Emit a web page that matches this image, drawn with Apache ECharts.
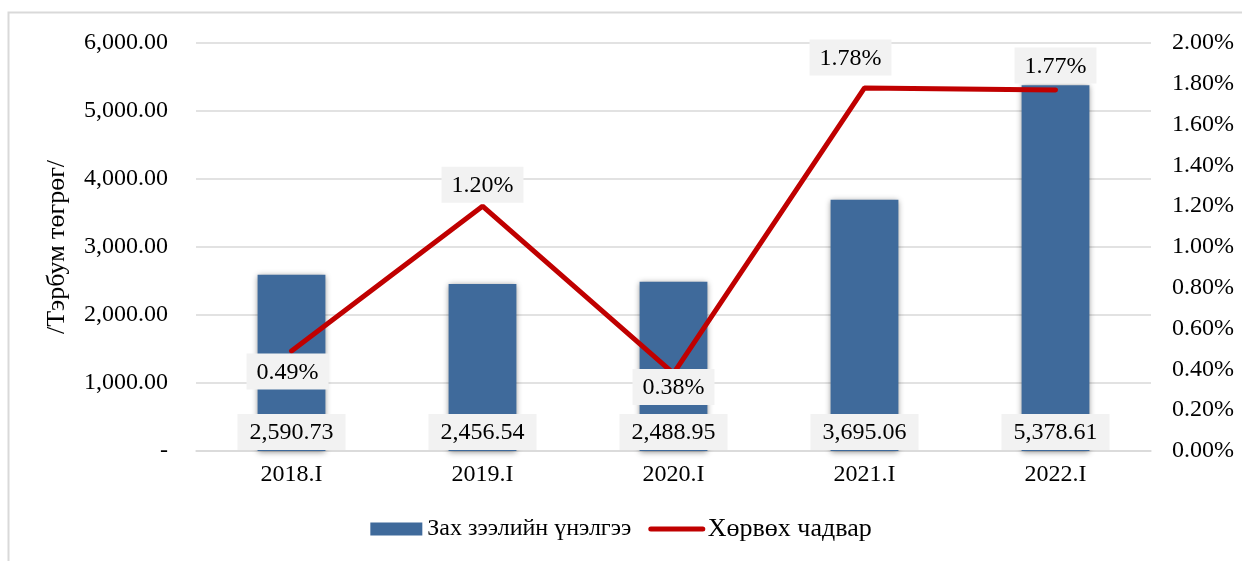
<!DOCTYPE html>
<html>
<head>
<meta charset="utf-8">
<script src="https://cdn.jsdelivr.net/npm/echarts@6/dist/echarts.min.js"></script>
<style>
html, body { margin: 0; padding: 0; background: #fff; }
#main { width: 1242px; height: 561px; }
</style>
</head>
<body>
<div id="main"></div>
<script>
// өгөгдөл
var periods = ['2018.I', '2019.I', '2020.I', '2021.I', '2022.I'];
var valuation = [2590.73, 2456.54, 2488.95, 3695.06, 5378.61];
var liquidity = [0.49, 1.20, 0.38, 1.78, 1.77];
var liqLabelPos = ['bottom', 'top', 'bottom', 'top', 'top'];
var liqLabelDist = [2, 3, -5, 12, 6];
var liqLabelShift = [-4, 0, 0, -14, 0];

var FONT = '"Liberation Serif", "Times New Roman", serif';

function fmtNum(v) {
    return v.toLocaleString('en-US', {minimumFractionDigits: 2, maximumFractionDigits: 2});
}

var chart = echarts.init(document.getElementById('main'));
var option = {
    animation: false,
    textStyle: { fontFamily: FONT },
    graphic: [{
        type: 'rect',
        shape: { x: 8.5, y: 12.5, width: 1300, height: 600 },
        style: { fill: 'none', stroke: '#d9d9d9', lineWidth: 2 },
        silent: true
    }],
    grid: { left: 196, right: 91, top: 43, bottom: 110 },
    legend: {
        bottom: 14,
        itemGap: 17,
        itemWidth: 52,
        itemHeight: 13,
        textStyle: { fontFamily: FONT, fontSize: 24, color: '#000' },
        data: [
            { name: 'Зах зээлийн үнэлгээ', icon: 'rect' },
            {
                name: 'Хөрвөх чадвар',
                itemStyle: { opacity: 0 },
                lineStyle: { width: 5, color: '#c00000', cap: 'round' },
                textStyle: { fontSize: 26 }
            }
        ]
    },
    xAxis: {
        type: 'category',
        data: periods,
        axisLine: { lineStyle: { color: '#d9d9d9', width: 1.5 } },
        axisTick: { show: false },
        axisLabel: { color: '#000', fontSize: 24, fontFamily: FONT, margin: 12 }
    },
    yAxis: [{
        type: 'value',
        min: 0, max: 6000, interval: 1000,
        name: '/Тэрбум төгрөг/',
        nameLocation: 'middle',
        nameGap: 126,
        nameRotate: 90,
        nameTextStyle: { color: '#000', fontSize: 26, fontFamily: FONT },
        axisLine: { show: false },
        axisTick: { show: false },
        splitLine: { lineStyle: { color: '#d9d9d9', width: 1.5 } },
        axisLabel: {
            color: '#000', fontSize: 24, fontFamily: FONT, margin: 28,
            formatter: function (v) { return v === 0 ? '-' : fmtNum(v); }
        }
    }, {
        type: 'value',
        min: 0, max: 2, interval: 0.2,
        axisLine: { show: false },
        axisTick: { show: false },
        splitLine: { show: false },
        axisLabel: {
            color: '#000', fontSize: 24, fontFamily: FONT, margin: 21,
            formatter: function (v) { return v.toFixed(2) + '%'; }
        }
    }],
    series: [{
        name: 'Зах зээлийн үнэлгээ',
        type: 'bar',
        data: valuation,
        barWidth: '35.5%',
        itemStyle: {
            color: '#3f6a9b',
            shadowColor: 'rgba(0,0,0,0.45)',
            shadowBlur: 6,
            shadowOffsetY: 1
        },
        label: {
            show: true,
            position: 'insideBottom',
            distance: 1,
            color: '#000',
            fontSize: 24,
            fontFamily: FONT,
            backgroundColor: '#f2f2f2',
            padding: [7, 12, 5, 12],
            formatter: function (p) { return fmtNum(p.value); }
        }
    }, {
        name: 'Хөрвөх чадвар',
        type: 'line',
        yAxisIndex: 1,
        symbol: 'circle',
        symbolSize: 1,
        lineStyle: { color: '#c00000', width: 5, cap: 'round' },
        itemStyle: { color: '#c00000' },
        data: liquidity.map(function (v, i) {
            return {
                value: v,
                label: {
                    position: liqLabelPos[i],
                    distance: liqLabelDist[i],
                    offset: [liqLabelShift[i], 0]
                }
            };
        }),
        label: {
            show: true,
            color: '#000',
            fontSize: 24,
            fontFamily: FONT,
            backgroundColor: '#f2f2f2',
            padding: [7, 10, 5, 10],
            formatter: function (p) { return p.value.toFixed(2) + '%'; }
        }
    }]
};
chart.setOption(option);
</script>
</body>
</html>
